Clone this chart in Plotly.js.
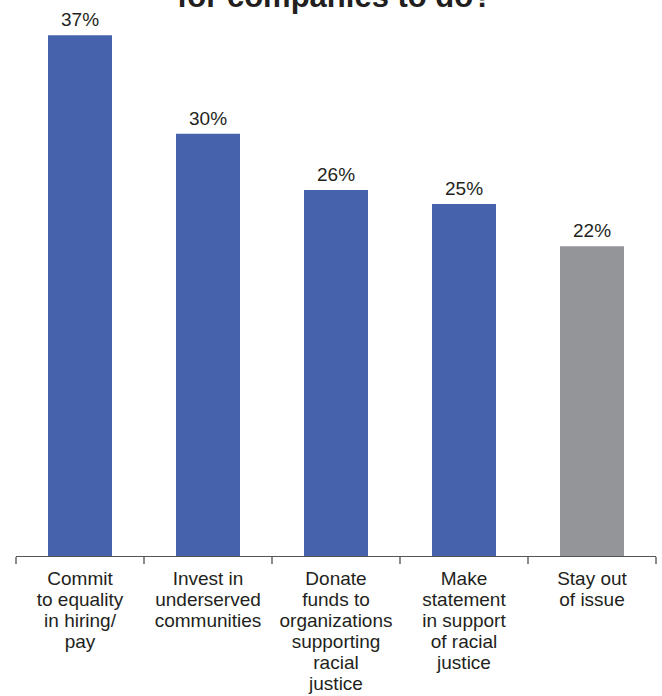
<!DOCTYPE html>
<html>
<head>
<meta charset="utf-8">
<script src="https://cdn.plot.ly/plotly-3.0.1.min.js"></script>
<style>
html,body{margin:0;padding:0;background:#fff;}
#chart{width:662px;height:696px;}
</style>
</head>
<body>
<div id="chart"></div>
<script>
const categories = [
  "Commit to equality in hiring/pay",
  "Invest in underserved communities",
  "Donate funds to organizations supporting racial justice",
  "Make statement in support of racial justice",
  "Stay out of issue"
];
const tickLabels = [
  "Commit<br>to equality<br>in hiring/<br>pay",
  "Invest in<br>underserved<br>communities",
  "Donate<br>funds to<br>organizations<br>supporting<br>racial<br>justice",
  "Make<br>statement<br>in support<br>of racial<br>justice",
  "Stay out<br>of issue"
];
const values = [37, 30, 26, 25, 22];
const valueLabels = ["37%", "30%", "26%", "25%", "22%"];
const barColors = ["#4762ad", "#4762ad", "#4762ad", "#4762ad", "#939598"];
const titleText = "for companies to do?";

const FONT = "'Liberation Sans', Arial, sans-serif";
const textColor = "#231f20";

const wrapTick = s => s.split("<br>").map(l => '<span style="font-size:19px">' + l + '</span>').join("<br>");

const trace = {
  type: "bar",
  x: categories,
  y: values,
  marker: {color: barColors, line: {width: 0}},
  hoverinfo: "none"
};

const annotations = values.map((v, i) => ({
  x: categories[i], y: v, xref: "x", yref: "y",
  text: valueLabels[i], showarrow: false,
  yanchor: "bottom", yshift: 3,
  font: {family: FONT, size: 19, color: textColor}
}));
annotations.push({
  x: 0.5, y: 1, xref: "paper", yref: "paper",
  text: "<b>" + titleText + "</b>", showarrow: false,
  yanchor: "bottom", yshift: -16, xshift: -2,
  font: {family: FONT, size: 31, color: textColor}
});

const layout = {
  width: 662, height: 696,
  margin: {l: 16, r: 6, t: 0, b: 140},
  paper_bgcolor: "#fff", plot_bgcolor: "#fff",
  showlegend: false,
  bargap: 0.5,
  font: {family: FONT, color: textColor},
  xaxis: {
    type: "category",
    tickmode: "array",
    tickvals: categories,
    ticktext: tickLabels.map(wrapTick),
    tickson: "boundaries",
    ticks: "outside", ticklen: 7, tickwidth: 2, tickcolor: "#8a8a8a",
    showline: true, linecolor: "#555555", linewidth: 1.2,
    showgrid: false, zeroline: false,
    tickfont: {family: FONT, size: 16.2, color: textColor},
    ticklabelstandoff: 8,
    fixedrange: true
  },
  yaxis: {
    range: [0, 39.5],
    visible: false,
    showgrid: false, zeroline: false,
    fixedrange: true
  },
  annotations: annotations
};

Plotly.newPlot("chart", [trace], layout, {displayModeBar: false, staticPlot: true});
</script>
</body>
</html>
